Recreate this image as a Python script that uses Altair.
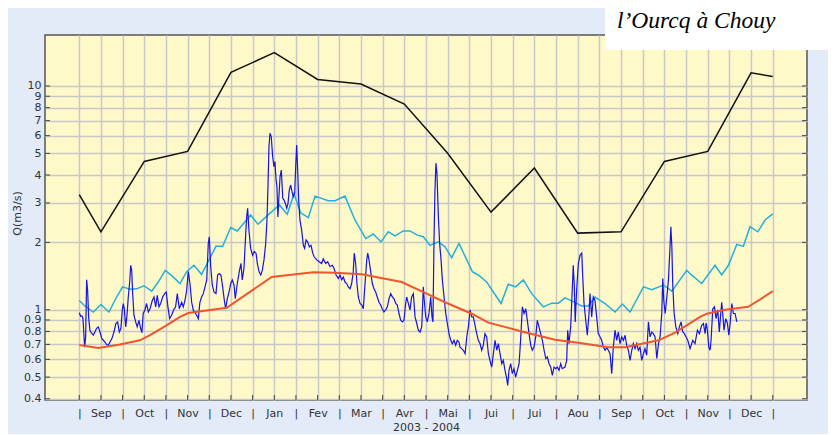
import json

import altair as alt
import pandas as pd

TITLE = "l’Ourcq à Chouy"
MONTHS = ["Sep", "Oct", "Nov", "Dec", "Jan", "Fev", "Mar", "Avr",
          "Mai", "Jui", "Jui", "Aou", "Sep", "Oct", "Nov", "Dec"]
MONTH_LEN = 30.5  # every month has the same width on the original axis
Y_TICKS = [0.4, 0.5, 0.6, 0.7, 0.8, 0.9, 1, 2, 3, 4, 5, 6, 7, 8, 9, 10]

# monthly values: start of Sep 2003, mid of each month, start of Jan 2005
BLACK_Q = [3.27, 2.23, 4.6, 5.1, 11.5, 14.1, 10.7, 10.2, 8.3,
           5.0, 2.73, 4.3, 2.2, 2.23, 4.6, 5.1, 11.45, 11.03]

RED_DAY = [0, 13.4, 28.6, 42.7, 49.8, 60.5, 70.9, 76.7, 103.7, 135.4,
           164.7, 180.0, 198.8, 226.9, 243.3, 257.4, 268.0, 276.2, 287.9, 311.4,
           334.8, 352.4, 372.3, 384.1, 407.6, 419.3, 436.9, 441.6, 453.3, 470.8,
           488.0]
RED_Q = [0.695, 0.675, 0.70, 0.73, 0.77, 0.845, 0.93, 0.967, 1.02, 1.40,
         1.47, 1.465, 1.44, 1.33, 1.19, 1.08, 1.01, 0.96, 0.876, 0.80,
         0.735, 0.71, 0.68, 0.68, 0.73, 0.79, 0.93, 0.96, 0.998, 1.03,
         1.21]

CYAN_DAY = [0, 4.0, 9.9, 15.3, 20.9, 26.3, 30.5, 35.7, 40.4, 45.5,
            51.0, 55.6, 60.5, 65.7, 70.9, 75.6, 80.7, 86.1, 96.2, 100.9,
            106.6, 111.2, 120.6, 125.8, 131.4, 140.8, 146.4, 151.1, 155.8, 161.2,
            165.9, 175.2, 180.0, 187.0, 194.0, 201.6, 206.9, 212.3, 217.5, 222.2,
            228.0, 232.7, 237.5, 242.1, 246.8, 252.7, 257.4, 262.1, 267.2, 276.6,
            280.8, 286.7, 296.8, 301.9, 307.1, 312.5, 318.4, 326.5, 332.5, 337.1,
            341.8, 346.6, 353.6, 358.2, 362.9, 370.0, 377.0, 382.2, 387.6, 397.0,
            402.9, 411.1, 417.0, 427.5, 429.8, 438.0, 447.4, 452.1, 456.8, 462.7,
            467.3, 472.0, 477.5, 482.6, 488.0]
CYAN_Q = [1.10, 1.04, 0.977, 1.055, 0.977, 1.14, 1.265, 1.235, 1.24, 1.28,
          1.21, 1.33, 1.50, 1.41, 1.31, 1.48, 1.58, 1.44, 1.92, 1.92,
          2.33, 2.25, 2.65, 2.41, 2.60, 2.94, 2.67, 3.3, 2.71, 2.58,
          3.22, 3.07, 3.07, 3.22, 2.52, 2.08, 2.18, 2.01, 2.23, 2.14,
          2.25, 2.25, 2.16, 2.12, 1.94, 2.01, 1.91, 1.71, 1.98, 1.48,
          1.43, 1.33, 1.066, 1.30, 1.265, 1.36, 1.18, 1.03, 1.07, 1.07,
          1.13, 1.095, 1.04, 1.04, 1.14, 1.066, 0.977, 1.06, 0.977, 1.265,
          1.23, 1.29, 1.21, 1.50, 1.45, 1.31, 1.58, 1.43, 1.58, 1.96,
          1.92, 2.35, 2.23, 2.52, 2.68]

BLUE_DAY = [
    0, 1.0, 1.9, 2.6, 3.1, 3.8, 4.5, 5.2, 5.9, 6.6,
    7.5, 8.7, 9.9, 11.0, 12.2, 13.4, 14.6, 15.8, 17.4, 19.3,
    20.4, 21.6, 23.0, 24.4, 25.8, 27.0, 28.2, 29.3, 30.3, 31.0,
    31.7, 32.7, 33.6, 34.5, 35.5, 36.2, 36.9, 37.6, 38.5, 39.7,
    40.8, 42.0, 43.2, 44.1, 45.0, 46.2, 47.4, 48.6, 49.8, 51.4,
    52.6, 53.8, 54.9, 56.1, 57.3, 58.7, 60.1, 61.2, 62.4, 63.6,
    65.0, 66.4, 67.8, 69.0, 70.4, 72.1, 73.2, 74.4, 75.6, 76.7,
    77.9, 79.1, 80.2, 81.9, 83.8, 84.9, 86.1, 87.3, 88.5, 89.7,
    90.8, 91.5, 92.5, 93.6, 94.8, 96.2, 97.4, 98.5, 99.7, 100.9,
    102.1, 103.0, 104.2, 105.4, 106.6, 107.7, 108.9, 109.8, 111.2, 112.6,
    113.8, 114.7, 115.9, 117.1, 117.8, 118.5, 119.4, 120.6, 122.0, 123.2,
    124.4, 125.3, 126.5, 127.7, 128.8, 130.0, 131.2, 132.1, 132.8, 133.5,
    134.2, 135.1, 136.1, 137.0, 137.7, 138.4, 139.1, 139.8, 140.5, 141.3,
    142.2, 143.2, 144.1, 145.0, 146.0, 146.9, 147.8, 148.8, 149.7, 150.6,
    151.6, 152.3, 153.0, 153.7, 154.4, 155.3, 156.5, 157.7, 158.6, 159.6,
    160.7, 161.9, 163.1, 164.3, 165.4, 167.1, 168.9, 170.6, 171.7, 173.4,
    174.8, 176.4, 178.1, 179.3, 180.7, 182.3, 183.5, 184.7, 185.8, 187.0,
    188.2, 189.3, 190.5, 191.7, 192.8, 193.5, 194.5, 195.4, 196.4, 197.6,
    198.8, 199.9, 201.1, 202.3, 203.0, 203.9, 205.1, 206.2, 207.4, 208.6,
    209.7, 210.9, 212.1, 213.2, 214.4, 215.6, 216.8, 218.0, 219.2, 220.3,
    221.5, 222.7, 223.8, 225.0, 226.2, 227.3, 228.5, 229.7, 230.4, 231.6,
    232.7, 233.9, 235.1, 236.3, 237.5, 238.6, 239.8, 241.0, 242.1, 242.8,
    243.8, 244.9, 246.1, 247.3, 248.2, 248.9, 249.6, 250.3, 251.0, 251.7,
    252.7, 253.6, 254.6, 255.5, 256.7, 257.9, 259.0, 260.2, 261.4, 262.5,
    263.7, 264.9, 266.0, 267.2, 267.9, 269.1, 270.3, 271.5, 272.7, 273.8,
    275.0, 276.2, 277.3, 278.5, 279.7, 280.8, 282.0, 283.2, 284.3, 285.5,
    286.7, 287.9, 289.0, 290.2, 291.4, 292.6, 293.8, 294.9, 296.1, 297.3,
    298.4, 299.6, 300.8, 301.5, 302.4, 303.6, 304.7, 305.9, 307.1, 308.3,
    309.5, 310.7, 311.8, 313.0, 314.2, 315.3, 316.5, 317.7, 318.8, 320.0,
    321.2, 322.3, 323.5, 324.7, 325.9, 327.1, 328.3, 329.4, 330.6, 331.8,
    332.9, 334.1, 335.3, 336.4, 337.6, 338.8, 339.9, 341.8, 343.0, 343.7,
    344.6, 345.8, 346.9, 347.6, 348.3, 349.0, 350.0, 351.2, 352.4, 353.6,
    354.3, 355.2, 356.4, 357.5, 358.7, 359.4, 360.6, 361.7, 362.9, 364.1,
    365.2, 366.5, 367.6, 368.8, 370.0, 371.2, 372.3, 373.5, 374.7, 375.8,
    377.0, 378.2, 379.3, 380.5, 381.7, 382.9, 384.1, 385.2, 386.4, 387.6,
    388.8, 389.9, 391.1, 392.3, 393.4, 394.6, 395.8, 397.0, 398.1, 399.3,
    400.5, 401.7, 402.9, 404.0, 405.2, 406.4, 407.6, 408.7, 409.9, 410.6,
    411.3, 412.3, 413.5, 414.6, 415.6, 416.3, 417.0, 417.6, 418.6, 419.8,
    421.2, 422.3, 423.5, 424.7, 425.8, 427.0, 428.2, 429.8, 431.7, 433.3,
    435.0, 436.4, 438.0, 439.2, 440.4, 441.1, 442.0, 443.0, 443.9, 444.6,
    445.8, 447.0, 448.1, 449.3, 450.4, 451.4, 452.1, 452.8, 453.7, 454.9,
    456.1, 457.1, 458.0, 459.2, 460.3, 461.5, 462.7]
BLUE_Q = [
    0.97, 0.935, 0.938, 0.916, 0.81, 0.68, 0.756, 1.36, 1.22, 0.929,
    0.81, 0.785, 0.769, 0.795, 0.826, 0.838, 0.795, 0.745, 0.725, 0.699,
    0.693, 0.718, 0.743, 0.795, 0.868, 0.882, 0.795, 0.824, 1.0, 1.066,
    1.01, 0.838, 0.945, 1.14, 1.33, 1.58, 1.50, 1.18, 0.945, 0.882,
    0.838, 0.897, 0.824, 0.79, 0.962, 0.998, 1.066, 0.977, 1.01, 1.10,
    1.14, 1.03, 1.16, 1.03, 1.066, 1.14, 1.18, 1.20, 1.03, 0.913,
    0.945, 0.998, 1.03, 1.18, 1.01, 1.08, 1.03, 1.10, 1.22, 1.48,
    1.31, 1.08, 0.998, 0.962, 0.913, 1.08, 1.14, 1.18, 1.265, 1.36,
    1.98, 2.12, 1.56, 1.29, 1.20, 1.18, 1.43, 1.45, 1.43, 1.265,
    1.10, 1.01, 1.12, 1.20, 1.31, 1.36, 1.29, 1.12, 1.31, 1.48,
    1.61, 1.36, 1.53, 2.16, 2.60, 2.84, 2.27, 1.88, 1.75, 1.82,
    1.79, 1.61, 1.48, 1.43, 1.50, 1.67, 1.98, 2.52, 3.55, 5.36,
    6.15, 5.94, 4.83, 4.36, 4.59, 3.87, 3.55, 2.60, 3.20, 3.93,
    4.21, 3.15, 3.09, 2.99, 2.84, 2.99, 3.43, 3.61, 3.37, 3.20,
    3.31, 4.36, 5.45, 4.21, 3.09, 2.52, 2.27, 1.94, 1.88, 2.05,
    2.01, 1.91, 1.94, 1.79, 1.72, 1.67, 1.64, 1.61, 1.69, 1.61,
    1.64, 1.56, 1.58, 1.53, 1.43, 1.38, 1.43, 1.36, 1.40, 1.33,
    1.31, 1.265, 1.24, 1.31, 1.48, 1.79, 1.61, 1.31, 1.14, 1.066,
    1.05, 1.01, 1.31, 1.67, 1.79, 1.67, 1.48, 1.31, 1.24, 1.20,
    1.14, 1.08, 1.05, 1.01, 0.977, 0.998, 1.03, 1.12, 1.18, 1.14,
    1.12, 1.066, 1.05, 0.962, 0.897, 0.882, 0.897, 1.066, 1.14, 1.066,
    0.998, 1.14, 1.18, 0.929, 0.868, 0.81, 0.795, 0.838, 1.265, 1.10,
    0.929, 0.882, 0.962, 1.14, 0.929, 0.882, 1.98, 3.43, 4.52, 4.07,
    2.60, 1.98, 1.67, 1.36, 1.14, 0.962, 0.868, 0.782, 0.73, 0.706,
    0.73, 0.693, 0.73, 0.718, 0.681, 0.67, 0.659, 0.636, 0.756, 0.838,
    0.998, 0.929, 0.929, 0.852, 0.782, 0.73, 0.706, 0.659, 0.693, 0.782,
    0.756, 0.636, 0.594, 0.554, 0.636, 0.73, 0.659, 0.706, 0.636, 0.574,
    0.594, 0.536, 0.492, 0.459, 0.536, 0.574, 0.518, 0.545, 0.50, 0.536,
    0.574, 0.756, 1.03, 0.962, 1.01, 0.897, 0.782, 0.693, 0.659, 0.681,
    0.756, 0.897, 0.838, 0.782, 0.73, 0.659, 0.605, 0.615, 0.574, 0.554,
    0.509, 0.554, 0.545, 0.554, 0.536, 0.574, 0.545, 0.554, 0.594, 0.81,
    0.706, 0.838, 1.22, 1.58, 1.31, 0.882, 1.22, 1.61, 1.75, 1.79,
    1.40, 1.066, 0.897, 0.769, 0.962, 1.18, 0.929, 1.14, 1.10, 0.929,
    0.782, 0.756, 0.73, 0.681, 0.659, 0.677, 0.659, 0.636, 0.518, 0.681,
    0.81, 0.73, 0.795, 0.706, 0.756, 0.73, 0.769, 0.693, 0.659, 0.594,
    0.659, 0.706, 0.67, 0.706, 0.659, 0.681, 0.594, 0.636, 0.67, 0.626,
    0.882, 0.756, 0.795, 0.782, 0.756, 0.605, 0.706, 0.756, 0.962, 1.38,
    1.10, 0.962, 1.14, 1.36, 1.85, 2.35, 1.91, 1.31, 0.962, 0.838,
    0.782, 0.838, 0.882, 0.795, 0.782, 0.756, 0.73, 0.67, 0.73, 0.706,
    0.81, 0.782, 0.852, 0.868, 0.782, 0.873, 0.81, 0.681, 0.659, 0.73,
    1.01, 1.03, 0.913, 0.998, 0.795, 0.962, 1.08, 0.962, 0.81, 0.913,
    0.868, 0.769, 0.868, 1.066, 0.962, 0.962, 0.882]

assert len(BLUE_DAY) == len(BLUE_Q)
assert len(CYAN_DAY) == len(CYAN_Q)
assert len(RED_DAY) == len(RED_Q)

W, H = 762, 365

starts = [MONTH_LEN * k for k in range(len(MONTHS) + 1)]
mids = [MONTH_LEN * (k + 0.5) for k in range(len(MONTHS))]
x_ticks = sorted(starts + mids)
black_day = [starts[0]] + mids + [starts[-1]]

label_expr = "datum.value % {m} == 0 ? '|' : {names}[floor(datum.value / {m})]".format(
    m=MONTH_LEN, names=json.dumps(MONTHS))

x = alt.X('day:Q',
          scale=alt.Scale(domain=[-24.1, 512.1], nice=False, zero=False),
          axis=alt.Axis(values=x_ticks, labelExpr=label_expr, title='2003 - 2004',
                        labelOverlap=False, labelFlush=False, labelPadding=7,
                        titleY=27, titleBaseline='middle'))
y = alt.Y('q:Q',
          scale=alt.Scale(type='log', domain=[0.395, 16.9], nice=False),
          axis=alt.Axis(values=Y_TICKS, format='~g', title='Q(m3/s)',
                        labelOverlap=False, labelPadding=4,
                        titleX=-28, titleY=178, titleBaseline='middle'))


def series(day, q, color, width):
    df = pd.DataFrame({'day': day, 'q': q})
    return alt.Chart(df).mark_line(color=color, strokeWidth=width).encode(x=x, y=y)


ytick_df = pd.DataFrame({'q': Y_TICKS})
xtick_df = pd.DataFrame({'day': x_ticks})
tick_color = '#444444'
left_ticks = alt.Chart(ytick_df).mark_rule(color=tick_color).encode(
    y=y, x=alt.value(0), x2=alt.value(5))
right_ticks = alt.Chart(ytick_df).mark_rule(color=tick_color).encode(
    y=y, x=alt.value(W - 5), x2=alt.value(W))
bottom_ticks = alt.Chart(xtick_df).mark_rule(color=tick_color).encode(
    x=x, y=alt.value(H - 5), y2=alt.value(H))

title_df = pd.DataFrame({'t': [TITLE]})
title_box = alt.Chart(title_df).mark_rect(color='white').encode(
    x=alt.value(560), x2=alt.value(800), y=alt.value(-27), y2=alt.value(15))
title_text = alt.Chart(title_df).mark_text(
    align='left', baseline='alphabetic', font='Liberation Serif',
    fontStyle='italic', fontSize=23.5, color='black').encode(
    x=alt.value(572), y=alt.value(-7), text='t:N')

chart = alt.layer(
    left_ticks, right_ticks, bottom_ticks,
    series(black_day, BLACK_Q, '#111111', 1.5),
    series(CYAN_DAY, CYAN_Q, '#22B0DA', 1.5),
    series(BLUE_DAY, BLUE_Q, '#1414E8', 1.2),
    series(RED_DAY, RED_Q, '#F0552D', 2),
    title_box, title_text,
).properties(
    width=W, height=H,
    padding={'left': 37, 'top': 27, 'right': 21, 'bottom': 34},
    autosize=alt.AutoSizeParams(type='none'),
).configure(
    background='#E3EBF9',
).configure_view(
    fill='#FFF9CA', stroke='#555555', strokeWidth=1.5,
).configure_axis(
    grid=True, gridColor='#C8C8C8', gridWidth=1.5,
    domain=False, ticks=False,
    labelFont='DejaVu Sans', labelFontSize=11, labelColor='#333333',
    titleFont='DejaVu Sans', titleFontSize=11, titleFontWeight='normal', titleColor='#333333',
)

chart.save("out.html", embed_options={"renderer": "svg", "actions": False})
